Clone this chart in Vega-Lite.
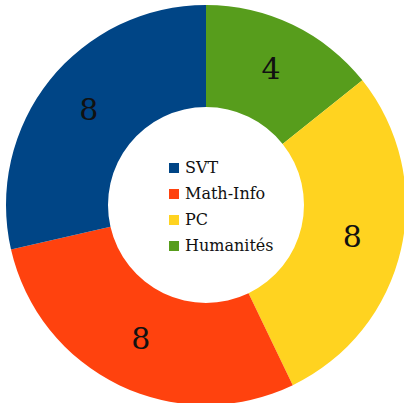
{
  "$schema": "https://vega.github.io/schema/vega-lite/v6.json",
  "autosize": {"type": "fit", "contains": "padding"},
  "width": 404,
  "height": 403,
  "padding": {"left": 8, "top": 7, "right": 0, "bottom": 0},
  "background": "white",
  "config": {"legend": {"labelFont": "DejaVu Serif"}},
  "data": {
    "values": [
      {"cat": "Humanités", "n": 4, "k": 1},
      {"cat": "PC", "n": 8, "k": 2},
      {"cat": "Math-Info", "n": 8, "k": 3},
      {"cat": "SVT", "n": 8, "k": 4}
    ]
  },
  "encoding": {
    "theta": {"field": "n", "type": "quantitative", "stack": true},
    "order": {"field": "k", "type": "quantitative"}
  },
  "layer": [
    {
      "mark": {"type": "arc", "outerRadius": 200, "innerRadius": 98},
      "encoding": {
        "color": {
          "field": "cat",
          "type": "nominal",
          "scale": {
            "domain": ["SVT", "Math-Info", "PC", "Humanités"],
            "range": ["#004586", "#ff420e", "#ffd320", "#579d1c"]
          },
          "legend": {
            "title": null,
            "orient": "none",
            "legendX": 158,
            "legendY": 153,
            "symbolType": "square",
            "symbolSize": 100,
            "symbolStrokeWidth": 0,
            "labelFont": "DejaVu Serif",
            "labelFontSize": 16,
            "labelColor": "#111",
            "labelOffset": 3,
            "rowPadding": 10
          }
        }
      }
    },
    {
      "mark": {"type": "text", "radius": 150, "font": "DejaVu Serif", "fontSize": 30, "color": "#111"},
      "encoding": {"text": {"field": "n", "type": "quantitative"}}
    }
  ]
}
